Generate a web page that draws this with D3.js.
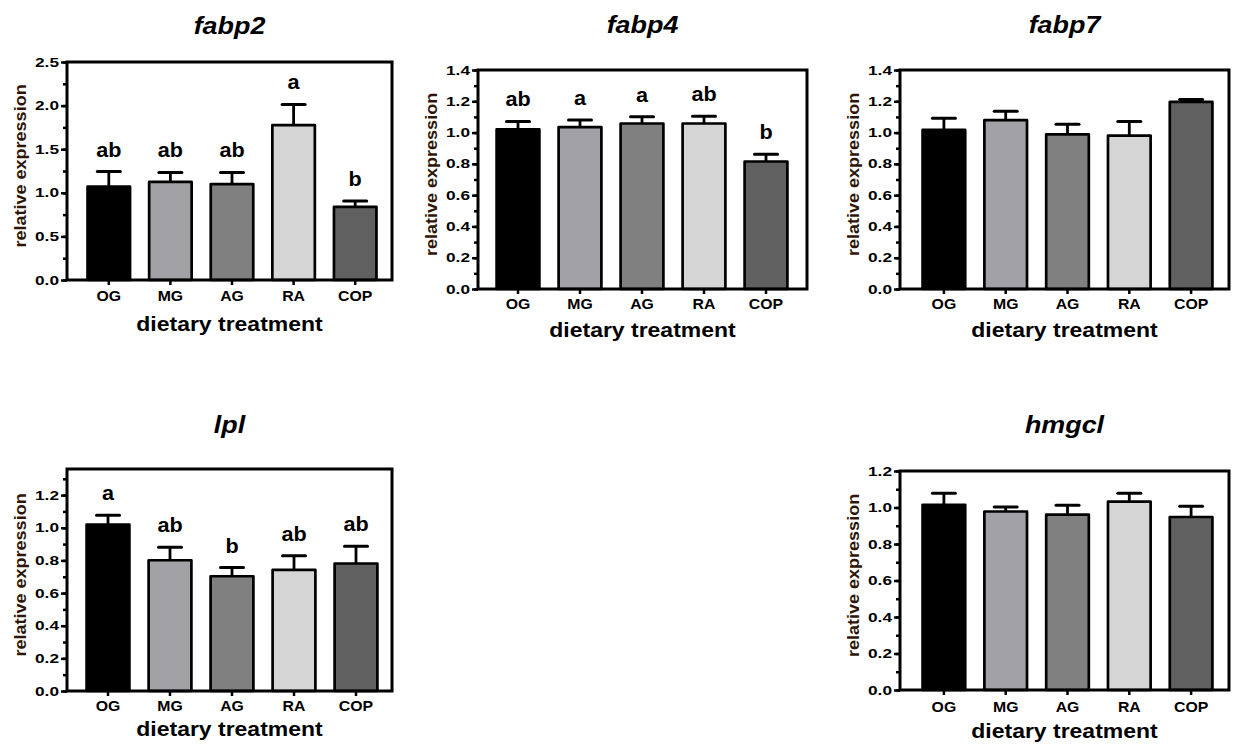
<!DOCTYPE html>
<html>
<head>
<meta charset="utf-8">
<script src="https://cdn.jsdelivr.net/npm/d3@7"></script>
<style>
    body { margin: 0; background: #fff; }
    text { font-family: "Liberation Sans", Arial, sans-serif; font-weight: bold; }
    .gene-title { font-style: italic; font-size: 24px; }
    .y-label { font-size: 17px; fill: #2e1606; }
    .x-label { font-size: 20.5px; }
    .axis text { font-size: 12.5px; fill: #000; }
    .axis line { stroke: #000; stroke-width: 2.5; }
    .sig { font-size: 20px; }
</style>
</head>
<body>
<div id="figure"></div>
<script>
"use strict"

// groups and fills
const categories = ['OG', 'MG', 'AG', 'RA', 'COP']
const fills = ['#000000', '#a2a2a6', '#808080', '#d5d5d5', '#606060']

// mean relative expression and error (upper bar only)
const fabp2Mean = [1.07, 1.125, 1.10, 1.776, 0.838]
const fabp2Err = [0.174, 0.108, 0.133, 0.238, 0.069]
const fabp2Sig = ['ab', 'ab', 'ab', 'a', 'b']
const fabp2Ticks = [0, 0.5, 1.0, 1.5, 2.0, 2.5]

const fabp4Mean = [1.02, 1.035, 1.058, 1.058, 0.815]
const fabp4Err = [0.051, 0.045, 0.043, 0.047, 0.047]
const fabp4Sig = ['ab', 'a', 'a', 'ab', 'b']
const fabp4Ticks = [0, 0.2, 0.4, 0.6, 0.8, 1.0, 1.2, 1.4]

const fabp7Mean = [1.017, 1.079, 0.989, 0.981, 1.196]
const fabp7Err = [0.074, 0.057, 0.064, 0.089, 0.015]
const fabp7Sig = ['', '', '', '', '']
const fabp7Ticks = [0, 0.2, 0.4, 0.6, 0.8, 1.0, 1.2, 1.4]

const lplMean = [1.02, 0.801, 0.703, 0.742, 0.781]
const lplErr = [0.057, 0.080, 0.053, 0.086, 0.106]
const lplSig = ['a', 'ab', 'b', 'ab', 'ab']
const lplTicks = [0, 0.2, 0.4, 0.6, 0.8, 1.0, 1.2]

const hmgclMean = [1.014, 0.978, 0.961, 1.032, 0.948]
const hmgclErr = [0.064, 0.025, 0.051, 0.046, 0.059]
const hmgclSig = ['', '', '', '', '']
const hmgclTicks = [0, 0.2, 0.4, 0.6, 0.8, 1.0, 1.2]

/*
    draws a grid of bar panels (one gene each)
    * panel: frame, bars, error bars, letters, axes, labels
*/
const expressionFigure = (function() {

    const W = 1234, H = 751

    // stretch glyphs horizontally, the source text is wider than Arial
    function widen(sel, k) {
        sel.each(function() {
            const w = this.getComputedTextLength()
            this.setAttribute('textLength', w * k)
            this.setAttribute('lengthAdjust', 'spacingAndGlyphs')
        })
    }

    function panel(svg, p) {
        const g = svg.append('g').attr('class', `panel ${ p.gene }`)
        const rows = categories.map((c, i) => ({ cat: c, mean: p.mean[i], err: p.err[i], sig: p.sig[i], fill: fills[i] }))

        const x = d3.scaleBand()
                    .domain(categories)
                    .range([p.l + p.pad[0], p.r - p.pad[1]])
                    .paddingInner(0.31)
                    .paddingOuter(0.155)
        const y = d3.scaleLinear()
                    .domain([0, p.top])
                    .range([p.b, p.t])
        const cx = c => x(c) + x.bandwidth() / 2

        // bars
        g.selectAll('.bar')
            .data(rows)
            .enter().append('rect')
                .attr('class', 'bar')
                .attr('x', d => x(d.cat))
                .attr('y', d => y(d.mean))
                .attr('width', x.bandwidth())
                .attr('height', d => y(0) - y(d.mean))
                .attr('fill', d => d.fill)
                .attr('stroke', '#000')
                .attr('stroke-width', 2.7)
                .attr('stroke-linejoin', 'round')

        // error bars (up only)
        g.selectAll('.err-stem')
            .data(rows)
            .enter().append('line')
                .attr('class', 'err-stem')
                .attr('x1', d => cx(d.cat)).attr('x2', d => cx(d.cat))
                .attr('y1', d => y(d.mean)).attr('y2', d => y(d.mean + d.err))
                .attr('stroke', '#000').attr('stroke-width', 2.8)
        g.selectAll('.err-cap')
            .data(rows)
            .enter().append('line')
                .attr('class', 'err-cap')
                .attr('x1', d => cx(d.cat) - 11.5).attr('x2', d => cx(d.cat) + 11.5)
                .attr('y1', d => y(d.mean + d.err)).attr('y2', d => y(d.mean + d.err))
                .attr('stroke', '#000').attr('stroke-width', 3).attr('stroke-linecap', 'round')

        // significance letters
        g.selectAll('.sig')
            .data(rows.filter(d => d.sig))
            .enter().append('text')
                .attr('class', 'sig')
                .attr('text-anchor', 'middle')
                .attr('x', d => cx(d.cat))
                .attr('y', d => y(d.mean + d.err) - 15)
                .text(d => d.sig)
                .call(widen, 1.08)

        // y-axis, major then minor ticks
        const yMajor = d3.axisLeft(y)
                    .tickValues(p.ticks)
                    .tickFormat(d3.format('.1f'))
                    .tickSize(6)
                    .tickPadding(2)
        const yMinor = d3.axisLeft(y)
                    .tickValues(d3.range(0, p.minorTop + 1e-6, p.minor))
                    .tickFormat('')
                    .tickSize(4)
        g.append('g')
            .attr('class', 'axis y-minor')
            .attr('transform', `translate(${ p.l }, 0)`)
            .call(yMinor)
            .call(a => a.select('.domain').remove())
        g.append('g')
            .attr('class', 'axis y-axis')
            .attr('transform', `translate(${ p.l }, 0)`)
            .call(yMajor)
            .call(a => a.select('.domain').remove())
            .call(a => a.selectAll('text').call(widen, 1.38))

        // x-axis ticks and labels
        const xAx = d3.axisBottom(x)
                    .tickSize(5)
                    .tickPadding(p.xPad)
        g.append('g')
            .attr('class', 'axis x-axis')
            .attr('transform', `translate(0, ${ p.b })`)
            .call(xAx)
            .call(a => a.select('.domain').remove())
            .call(a => a.selectAll('text').style('font-size', '14px').call(widen, 1.13))

        // frame
        g.append('rect')
            .attr('x', p.l).attr('y', p.t)
            .attr('width', p.r - p.l).attr('height', p.b - p.t)
            .attr('fill', 'none')
            .attr('stroke', '#000')
            .attr('stroke-width', 3)

        // title
        g.append('text')
            .attr('class', 'gene-title')
            .attr('text-anchor', 'middle')
            .attr('x', (p.l + p.r) / 2)
            .attr('y', p.titleY)
            .text(p.gene)
            .call(widen, 1.12)

        // y-axis label
        g.append('text')
            .attr('class', 'y-label')
            .attr('text-anchor', 'middle')
            .attr('transform', `translate(${ p.l - 41 }, ${ (p.t + p.b) / 2 - 5 }) rotate(-90)`)
            .text('relative expression')
            .call(widen, 1.06)

        // x-axis label
        g.append('text')
            .attr('class', 'x-label')
            .attr('text-anchor', 'middle')
            .attr('x', (p.l + p.r) / 2)
            .attr('y', p.b + p.xLabelDy)
            .text('dietary treatment')
            .call(widen, 1.12)
    }

    function draw(id, panels) {
        const svg = d3.select(id)
                    .append('svg')
                        .attr('width', W)
                        .attr('height', H)
                        .attr('viewBox', `0 0 ${ W } ${ H }`)
        svg.append('rect').attr('width', W).attr('height', H).attr('fill', '#fff')
        panels.forEach(p => panel(svg, p))
    }

    return {
        draw: draw
    }

}())

expressionFigure.draw('#figure', [
    { gene: 'fabp2', mean: fabp2Mean, err: fabp2Err, sig: fabp2Sig, ticks: fabp2Ticks, top: 2.5, minor: 0.25, minorTop: 2.5,
      l: 67, r: 392, t: 62, b: 280, pad: [11, 6], titleY: 34, xPad: 6, xLabelDy: 51 },
    { gene: 'fabp4', mean: fabp4Mean, err: fabp4Err, sig: fabp4Sig, ticks: fabp4Ticks, top: 1.4, minor: 0.1, minorTop: 1.4,
      l: 478, r: 807, t: 70, b: 289, pad: [9, 10], titleY: 33, xPad: 5, xLabelDy: 48 },
    { gene: 'fabp7', mean: fabp7Mean, err: fabp7Err, sig: fabp7Sig, ticks: fabp7Ticks, top: 1.4, minor: 0.1, minorTop: 1.4,
      l: 900, r: 1229, t: 70, b: 289, pad: [13, 7], titleY: 33, xPad: 5, xLabelDy: 48 },
    { gene: 'lpl', mean: lplMean, err: lplErr, sig: lplSig, ticks: lplTicks, top: 1.36, minor: 0.1, minorTop: 1.3,
      l: 67, r: 392, t: 469, b: 691, pad: [10, 5], titleY: 433, xPad: 5, xLabelDy: 45 },
    { gene: 'hmgcl', mean: hmgclMean, err: hmgclErr, sig: hmgclSig, ticks: hmgclTicks, top: 1.2, minor: 0.1, minorTop: 1.2,
      l: 900, r: 1229, t: 471, b: 690, pad: [13, 7], titleY: 433, xPad: 7, xLabelDy: 48 },
])
</script>
</body>
</html>
